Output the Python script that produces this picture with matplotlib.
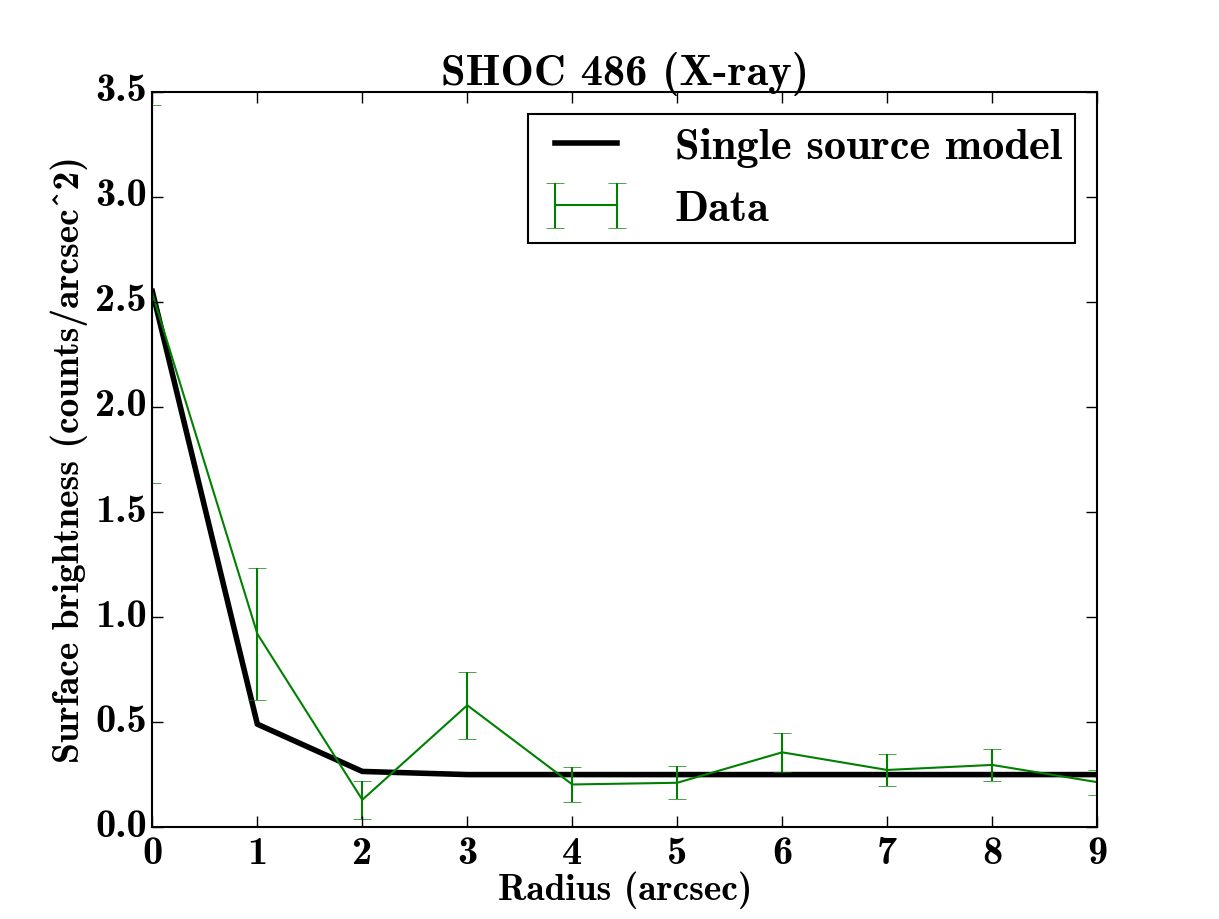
import numpy as np
import matplotlib
matplotlib.use('Agg')
import matplotlib.pyplot as plt

# radial profile, SHOC 486 (X-ray)
radius = [0, 1, 2, 3, 4, 5, 6, 7, 8, 9]
data_sb = [2.54, 0.92, 0.13, 0.58, 0.203, 0.211, 0.356, 0.272, 0.296, 0.214]
data_err = [0.90, 0.315, 0.09, 0.16, 0.084, 0.078, 0.092, 0.076, 0.075, 0.06]
model_sb = [2.55, 0.49, 0.265, 0.25, 0.25, 0.25, 0.25, 0.25, 0.25, 0.25]

plt.style.use('classic')
plt.rcParams['font.family'] = ['cmb10', 'DejaVu Serif']
plt.rcParams['font.weight'] = 'bold'
plt.rcParams['axes.unicode_minus'] = False

fig = plt.figure(figsize=(12.19, 9.19), dpi=100, facecolor='white')
ax = fig.add_subplot(111)
fig.subplots_adjust(left=0.125, right=0.9, bottom=0.1, top=0.9)

ax.plot(radius, model_sb, color='k', lw=4, label='Single source model')
ax.errorbar(radius, data_sb, yerr=data_err, color='g', lw=1.5, capsize=6.5,
            elinewidth=1.5, label='Data')

ax.set_xlim(0, 9)
ax.set_ylim(0, 3.5)
ax.set_xticks(range(0, 10))
ax.set_yticks(np.arange(0, 3.51, 0.5))
ax.set_xticklabels([str(i) for i in range(0, 10)])
ax.set_yticklabels(['%.1f' % v for v in np.arange(0, 3.51, 0.5)])
ax.tick_params(labelsize=29, length=8, width=1)
ax.tick_params(axis='x', pad=7)
ax.tick_params(axis='y', pad=4)
for s in ax.spines.values():
    s.set_linewidth(1.5)

ax.set_title('SHOC 486 (X-ray)', fontsize=32, fontweight='bold')
ax.set_xlabel('Radius (arcsec)', fontsize=27, fontweight='bold', labelpad=0)
ax.set_ylabel('Surface brightness (counts/arcsec^2)', fontsize=27, fontweight='bold')

leg = ax.legend(loc='upper right', fontsize=32, fancybox=False, numpoints=2,
                handlelength=2.0, handletextpad=1.0, borderpad=0.3)
leg.get_frame().set_linewidth(1.5)

fig.savefig('out.png', dpi=100, facecolor='white')
